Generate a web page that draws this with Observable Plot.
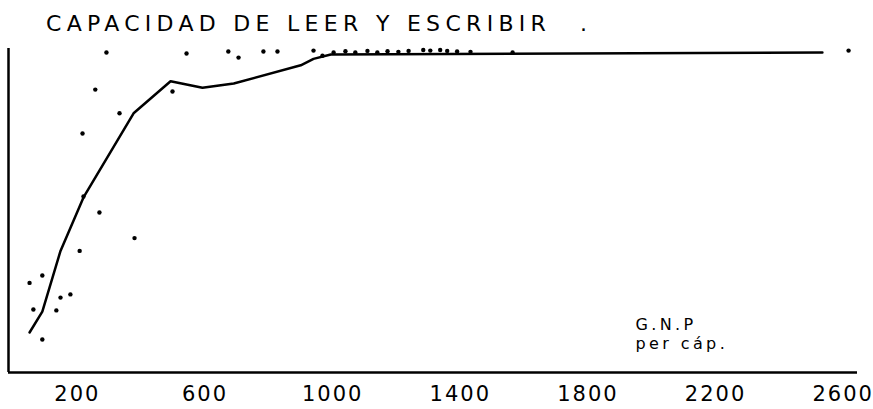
<!DOCTYPE html>
<html>
<head>
<meta charset="utf-8">
<script src="https://cdn.jsdelivr.net/npm/d3@7"></script>
<script src="https://cdn.jsdelivr.net/npm/@observablehq/plot@0.6"></script>
<style>
  html, body { margin: 0; padding: 0; background: #fff; }
  #wrap { position: relative; width: 873px; height: 409px; overflow: hidden; background: #fff; }
  #title { position: absolute; left: 46px; top: 13px; font-family: "DejaVu Sans", sans-serif; font-size: 22px; line-height: 22px; letter-spacing: 5.3px; color: #000; white-space: nowrap; }
  #dot { position: absolute; left: 580px; top: 13px; font-family: "DejaVu Sans", sans-serif; font-size: 22px; line-height: 22px; color: #000; }
  #chart { position: absolute; left: 0; top: 40px; }
  .gnp-label text { letter-spacing: 3.4px; }
</style>
</head>
<body>
<div id="wrap">
  <div id="title">CAPACIDAD DE LEER Y ESCRIBIR</div>
  <div id="dot">.</div>
  <div id="chart"></div>
</div>
<script>
// Tick labels on the GNP per capita axis
const xTicks = [200, 600, 1000, 1400, 1800, 2200, 2600];
const xMin = -16;
const xMax = 2645;
const yMin = 0;
const yMax = 101.25;

// Fitted curve (GNP per capita vs literacy %)
const curveGNP = [50, 90, 147, 219, 376, 492, 592, 690, 900, 940, 994, 2535];
const curveLit = [12.5, 19, 38, 54.7, 81, 91, 89, 90.3, 96, 98, 99.4, 100];

// Country observations
const obsGNP = [50, 90, 62, 147, 178, 134, 90, 207, 219, 269, 379, 216, 256, 332, 498,
  291, 542, 673, 705, 783, 827, 940, 968,
  1003, 1040, 1071, 1109, 1140, 1172, 1206, 1238, 1284, 1306, 1337, 1359, 1390, 1432, 1564, 2617];
const obsLit = [28, 30.3, 19.7, 23.4, 24.4, 19.4, 10.3, 38, 55, 50, 42, 74.7, 88.4, 81, 87.8,
  100, 99.7, 100.3, 98.4, 100.3, 100.3, 100.6, 99,
  100, 100.4, 100, 100.5, 100, 100.4, 100.2, 100.5, 100.8, 100.6, 100.8, 100.5, 100.3, 100.2, 100, 100.6];

const axisLabel = "G.N.P\nper cáp.";
const labelGNP = 1949;
const labelLit = 7.3;

const curve = curveGNP.map((g, i) => ({g, l: curveLit[i]}));
const obs = obsGNP.map((g, i) => ({g, l: obsLit[i]}));
const labels = [{t: axisLabel, g: labelGNP, l: labelLit}];

const chart = Plot.plot({
  width: 873,
  height: 369,
  marginLeft: 8,
  marginRight: 16,
  marginTop: 8,
  marginBottom: 37,
  x: {domain: [xMin, xMax]},
  y: {domain: [yMin, yMax], axis: null},
  style: {background: "#fff", color: "#000", fontFamily: "DejaVu Sans, sans-serif", letterSpacing: "2px"},
  marks: [
    Plot.axisX(xTicks, {tickSize: 0, tickPadding: 14, fontSize: 21, label: null, tickFormat: d => String(d)}),
    Plot.ruleY([yMin], {x1: xMin, x2: xMax, stroke: "#000", strokeWidth: 2.5}),
    Plot.ruleX([xMin], {y1: yMin, y2: yMax, stroke: "#000", strokeWidth: 2.5}),
    Plot.line(curve, {x: "g", y: "l", stroke: "#000", strokeWidth: 2.5}),
    Plot.dot(obs, {x: "g", y: "l", r: 2.2, fill: "#000", stroke: "none"}),
    Plot.text(labels, {x: "g", y: "l", text: "t", textAnchor: "start", lineAnchor: "bottom", lineHeight: 1.2, fontSize: 16, fill: "#000", className: "gnp-label"})
  ]
});
document.getElementById("chart").appendChild(chart);
</script>
</body>
</html>
